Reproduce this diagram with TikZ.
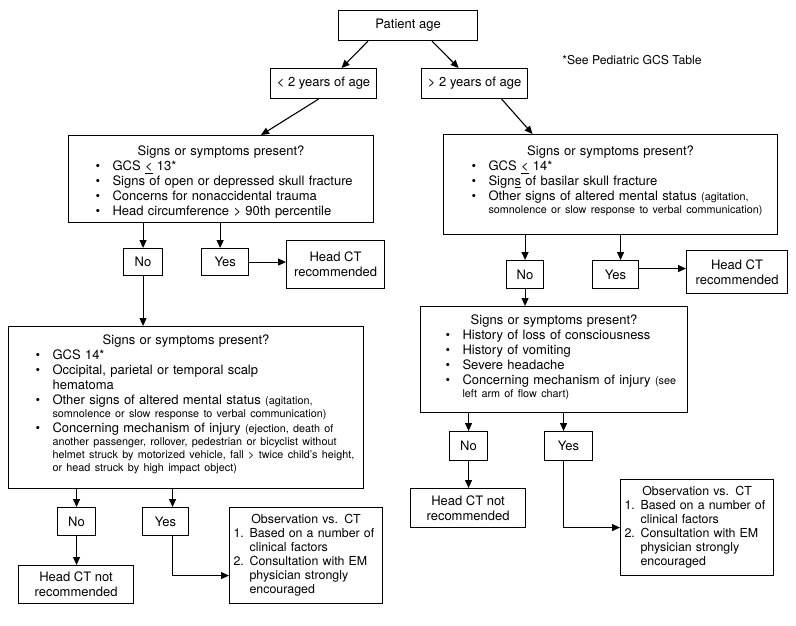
\documentclass[tikz,border=0pt]{standalone}
\usepackage{fontspec}
\setmainfont{TeX Gyre Heros}
\usepackage{tikz}
\usetikzlibrary{positioning,arrows.meta}
\newcommand{\mainsz}{\fontsize{13pt}{15pt}\selectfont}
\newcommand{\smallsz}{\fontsize{10.8pt}{13pt}\selectfont}
\newcommand{\obssz}{\fontsize{12.4pt}{14pt}\selectfont}
\newcommand{\sshead}{\centerline{Signs or symptoms present?}}
\newcommand{\sitem}{\par\noindent\makebox[36pt][l]{\hspace{19pt}\textbullet}}
\newcommand{\scont}[1][0pt]{\\[#1]\noindent\hspace*{36pt}}
\newcommand{\oitem}[1]{\par\noindent\makebox[16pt][l]{#1}}
\newcommand{\ocont}{\\\noindent\hspace*{16pt}}
\newcommand{\padbelow}[1]{\par\vspace{#1}\hrule height 0pt width 0pt}
\newcommand{\padabove}[1]{\hrule height 0pt width 0pt\vspace{#1}}
\tikzset{
  choice/.style={draw=black,line width=1.1pt,anchor=north west,inner sep=0pt,align=center,font=\mainsz},
  query/.style={draw=black,line width=1.1pt,anchor=north west,inner ysep=0pt,align=left,font=\mainsz},
  advice/.style={draw=black,line width=1.1pt,anchor=north west,inner xsep=4pt,inner ysep=0pt,
    text width=145pt,minimum height=96pt,align=left,font=\obssz},
  link/.style={line width=1.1pt,-{Triangle[length=8pt,width=7pt]}}
}
\begin{document}
\begin{tikzpicture}[x=1pt,y=-1pt]
  \useasboundingbox (0,0) rectangle (796,626);
  \node[choice,minimum width=139pt,minimum height=30pt] (age) at (338,10) {Patient age};
  \node[choice,minimum width=106pt,minimum height=30pt] (under) at (270,68) {< 2 years of age};
  \node[choice,minimum width=106pt,minimum height=30pt,right=44pt of under] (over) {> 2 years of age};
  \node[font=\fontsize{12.2pt}{14pt}\selectfont] (gcsnote) at (632,60) {*See Pediatric GCS Table};

  \node[query,inner xsep=8pt,text width=289pt,minimum height=87pt] (signsA) at (68,135) {%
    \padabove{6pt}
    \sshead
    \sitem GCS \underline{<} 13*
    \sitem Signs of open or depressed skull fracture
    \sitem Concerns for nonaccidental trauma
    \sitem Head circumference > 90th percentile};
  \node[query,inner xsep=9pt,text width=316pt,minimum height=100pt] (signsB) at (443,134) {%
    \sshead
    \sitem GCS \underline{<} 14*
    \sitem Sign\underline{s} of basilar skull fracture
    \sitem Other signs of altered mental status {\smallsz(agitation,}%
    \scont[-2pt]{\smallsz somnolence or slow response to verbal communication)}
    \padbelow{7pt}};

  \node[choice,minimum width=39pt,minimum height=27pt] (noA) at (123,248) {No};
  \node[choice,minimum width=47pt,minimum height=27pt,right=38pt of noA] (yesA) {Yes};
  \node[choice,minimum width=98pt,minimum height=48pt] (ctA) at (286,240) {Head CT\\recommended};
  \node[choice,minimum width=37pt,minimum height=28pt] (noB) at (506,260) {No};
  \node[choice,minimum width=46pt,minimum height=28pt] (yesB) at (592,260) {Yes};
  \node[choice,minimum width=101pt,minimum height=43pt] (ctB) at (686,250) {Head CT\\recommended};

  \node[query,inner xsep=8pt,text width=339pt,minimum height=162pt] (signsC) at (8,326) {%
    \sshead
    \sitem GCS 14*
    \sitem Occipital, parietal or temporal scalp\scont hematoma
    \sitem Other signs of altered mental status {\smallsz(agitation,}%
    \scont[-2pt]{\smallsz somnolence or slow response to verbal communication)}
    \sitem Concerning mechanism of injury {\smallsz(ejection, death of}%
    \scont[-2pt]{\smallsz another passenger, rollover, pedestrian or bicyclist without}%
    \scont[-2pt]{\smallsz helmet struck by motorized vehicle, fall > twice child's height,}%
    \scont[-2pt]{\smallsz or head struck by high impact object)}
    \padbelow{6pt}};
  \node[query,inner xsep=6pt,text width=255pt,minimum height=106pt] (signsD) at (420,306) {%
    \sshead
    \sitem History of loss of consciousness
    \sitem History of vomiting
    \sitem Severe headache
    \sitem Concerning mechanism of injury {\smallsz(see}%
    \scont[-2pt]{\smallsz left arm of flow chart)}
    \padbelow{4pt}};

  \node[choice,minimum width=38pt,minimum height=28pt] (noC) at (57,507) {No};
  \node[choice,minimum width=46pt,minimum height=28pt] (yesC) at (142,507) {Yes};
  \node[choice,minimum width=115pt,minimum height=38pt] (notC) at (18,565) {Head CT not\\recommended};
  \node[advice] (obsC) at (229,507) {%
    \centerline{Observation vs. CT}
    \oitem{1.}Based on a number of\ocont clinical factors
    \oitem{2.}Consultation with EM\ocont physician strongly\ocont encouraged};
  \node[choice,minimum width=38pt,minimum height=29pt] (noD) at (449,431) {No};
  \node[choice,minimum width=48pt,minimum height=29pt] (yesD) at (544,431) {Yes};
  \node[choice,minimum width=115pt,minimum height=39pt] (notD) at (410,488) {Head CT not\\recommended};
  \node[advice] (obsD) at (620,479) {%
    \centerline{Observation vs. CT}
    \oitem{1.}Based on a number of\ocont clinical factors
    \oitem{2.}Consultation with EM\ocont physician strongly\ocont encouraged};

  \draw[link] ([xshift=-40pt]age.south) -- ([xshift=18pt]under.north);
  \draw[link] ([xshift=24pt]age.south) -- ([xshift=-16pt]over.north);
  \draw[link] ([xshift=-5pt]under.south) -- ([xshift=40pt]signsA.north);
  \draw[link] ([xshift=27pt]over.south) -- ([xshift=-78pt]signsB.north);

  \draw[link] (noA |- signsA.south) -- (noA);
  \draw[link] ([xshift=-5pt]yesA.north |- signsA.south) -- ([xshift=-5pt]yesA.north);
  \draw[link] (yesA) -- (yesA -| ctA.west);
  \draw[link] (noA) -- (noA |- signsC.north);
  \draw[link] (noB |- signsB.south) -- (noB);
  \draw[link] ([xshift=5pt]yesB.north |- signsB.south) -- ([xshift=5pt]yesB.north);
  \draw[link] ([yshift=6pt]yesB.east) -- ([yshift=6pt]yesB.east -| ctB.west);
  \draw[link] (noB) -- (noB |- signsD.north);

  \draw[link] (noC |- signsC.south) -- (noC);
  \draw[link] ([xshift=7pt]yesC.north |- signsC.south) -- ([xshift=7pt]yesC.north);
  \draw[link] (noC) -- (noC |- notC.north);
  \draw[link] ([xshift=7pt]yesC.south) |- ([yshift=-20pt]obsC.west);
  \draw[link] (noD |- signsD.south) -- (noD);
  \draw[link] ([xshift=-5pt]yesD.north |- signsD.south) -- ([xshift=-5pt]yesD.north);
  \draw[link] (noD) -- (noD |- notD.north);
  \draw[link] ([xshift=-5pt]yesD.south) |- (obsD.west);
\end{tikzpicture}
\end{document}
